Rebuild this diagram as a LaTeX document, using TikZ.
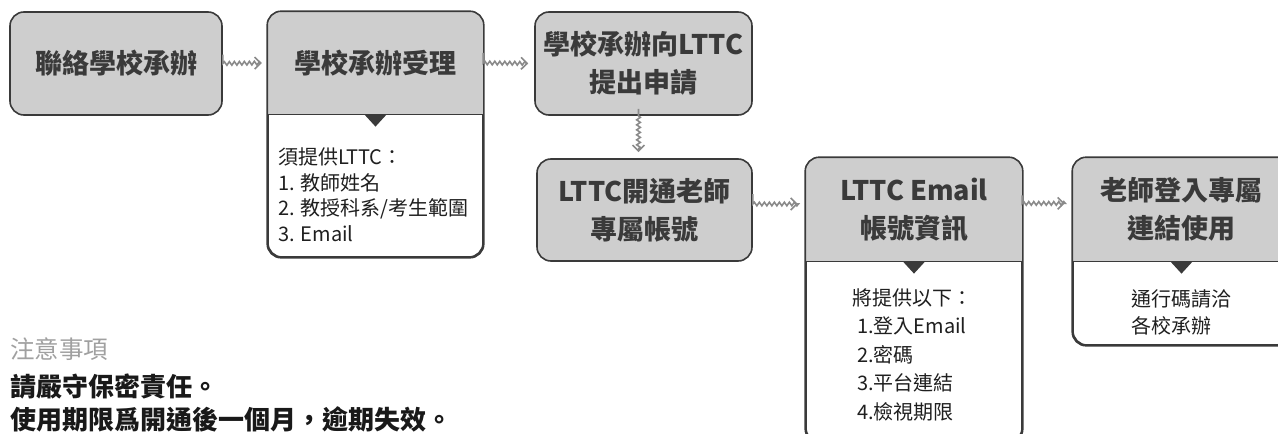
\documentclass[tikz,border=0pt]{standalone}
\usepackage{fontspec}
\setmainfont{Noto Sans CJK TC}
\usetikzlibrary{decorations.pathmorphing,arrows.meta}
\definecolor{boxfill}{HTML}{CECECE}
\definecolor{boxline}{HTML}{3A3A3A}
\definecolor{arrowcol}{HTML}{8A8A8A}
\definecolor{hdrtext}{HTML}{3A3A3A}
\definecolor{notegray}{HTML}{A0A0A0}
\begin{document}
\begin{tikzpicture}[x=1pt,y=1pt,
  outline/.style={draw=boxline, line width=1.6pt},
  hdrfont/.style={font=\fontsize{27}{38}\selectfont\bfseries, text=hdrtext, align=center},
  simplebox/.style={outline, fill=boxfill, rounded corners=14pt, hdrfont, inner sep=0pt},
  outerbox/.style={outline, fill=white, rounded corners=14pt, inner sep=0pt},
  hdrpart/.style={fill=boxfill, hdrfont, inner sep=0pt},
  bodytext/.style={font=\fontsize{20}{25.5}\selectfont, text=black!88, align=left, inner sep=0pt},
  tri/.style={fill=boxline},
  flow/.style={draw=arrowcol, line width=1.6pt, decorate,
    decoration={snake, amplitude=1.8pt, segment length=5pt, post length=7pt},
    -{Straight Barb[length=6pt,width=12pt,line width=1.6pt]}},
  notehead/.style={font=\fontsize{24.5}{28}\selectfont, text=notegray, inner sep=0pt, anchor=west},
  note/.style={font=\fontsize{26}{30}\selectfont\bfseries, text=black!90, inner sep=0pt, anchor=west}
]
\useasboundingbox (0,0) rectangle (1278,-434);

% Box 1
\node[simplebox, minimum width=212pt, minimum height=103pt] (b1) at (116,-63.5) {聯絡學校承辦};

% Box 2 (header + body)
\node[outerbox, minimum width=215pt, minimum height=245pt] (b2) at (375.5,-134.5) {};
\begin{scope}
  \clip[rounded corners=14pt] (b2.south west) rectangle (b2.north east);
  \node[hdrpart, minimum width=215pt, minimum height=103pt, anchor=north] (h2) at (b2.north) {學校承辦受理};
\end{scope}
\draw[outline] (h2.south west) -- (h2.south east);
\draw[outline, rounded corners=14pt] (b2.south west) rectangle (b2.north east);
\fill[tri] (h2.south) ++(-11,0) -- ++(22,0) -- ++(-11,-12) -- cycle;
\node[bodytext, anchor=north west] (t2) at (278,-148) {須提供LTTC：\\1. 教師姓名\\2. 教授科系/考生範圍\\3. Email};

% Box 3
\node[simplebox, minimum width=217pt, minimum height=103pt] (b3) at (643.5,-63.5) {學校承辦向LTTC\\提出申請};

% Box 4
\node[simplebox, minimum width=215pt, minimum height=102pt] (b4) at (644.5,-210) {LTTC開通老師\\專屬帳號};

% Box 5
\node[outerbox, minimum width=216pt, minimum height=284pt] (b5) at (914,-300) {};
\begin{scope}
  \clip[rounded corners=14pt] (b5.south west) rectangle (b5.north east);
  \node[hdrpart, minimum width=216pt, minimum height=104pt, anchor=north] (h5) at (b5.north) {LTTC Email\\帳號資訊};
\end{scope}
\draw[outline] (h5.south west) -- (h5.south east);
\draw[outline, rounded corners=14pt] (b5.south west) rectangle (b5.north east);
\fill[tri] (h5.south) ++(-11,0) -- ++(22,0) -- ++(-11,-12) -- cycle;
\node[bodytext, anchor=north west, font=\fontsize{20}{28.5}\selectfont] (t5) at (852,-288) {將提供以下：\\\hspace*{5pt}1.登入Email\\\hspace*{5pt}2.密碼\\\hspace*{5pt}3.平台連結\\\hspace*{5pt}4.檢視期限};

% Box 6
\node[outerbox, minimum width=217pt, minimum height=187pt] (b6) at (1181.5,-251.5) {};
\begin{scope}
  \clip[rounded corners=14pt] (b6.south west) rectangle (b6.north east);
  \node[hdrpart, minimum width=217pt, minimum height=104pt, anchor=north] (h6) at (b6.north) {老師登入專屬\\連結使用};
\end{scope}
\draw[outline] (h6.south west) -- (h6.south east);
\draw[outline, rounded corners=14pt] (b6.south west) rectangle (b6.north east);
\fill[tri] (h6.south) ++(-11,0) -- ++(22,0) -- ++(-11,-12) -- cycle;
\node[bodytext, anchor=north west, font=\fontsize{20}{27}\selectfont] (t6) at (1131,-289) {通行碼請洽\\各校承辦};

% Connectors
\draw[flow, shorten <=9pt, shorten >=6pt] (b1.east) -- (h2.west);
\draw[flow, shorten <=10pt, shorten >=6pt] (h2.east) -- (b3.west);
\draw[flow, shorten <=7pt, shorten >=6pt] ([xshift=-5pt]b3.south) -- ([xshift=-5pt]b3.south |- b4.north);
\draw[flow, shorten <=10pt, shorten >=8pt] ([yshift=6pt]b4.east) -- ([yshift=6pt]b4.east -| h5.west);
\draw[flow, shorten <=8pt, shorten >=8pt] ([yshift=6pt]h5.east) -- ([yshift=6pt]h5.east -| h6.west);

% Notes
\node[notehead] (n0) at (10,-349) {注意事項};
\node[note] (n1) at (10,-386) {請嚴守保密責任。};
\node[note] (n2) at (10,-419) {使用期限爲開通後一個月，逾期失效。};
\end{tikzpicture}
\end{document}
